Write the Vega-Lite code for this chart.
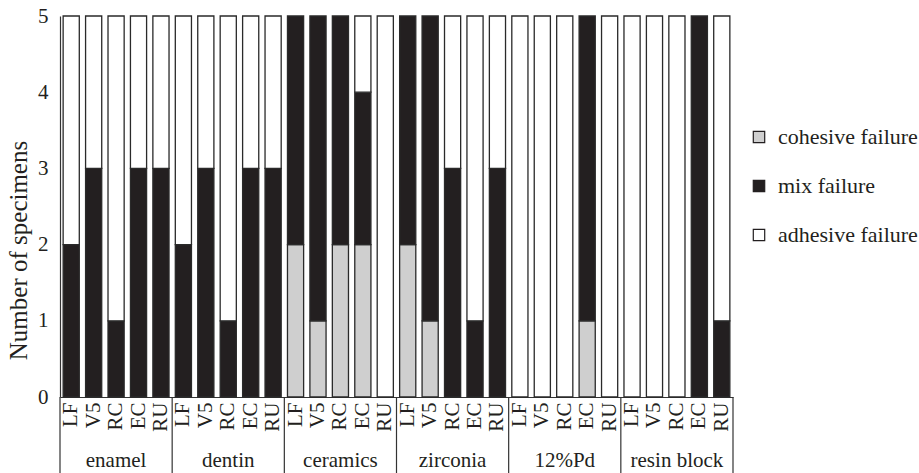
{
  "$schema": "https://vega.github.io/schema/vega-lite/v6.json",
  "width": 673,
  "height": 381,
  "autosize": {"type": "none"},
  "padding": {"left": 60, "top": 16, "right": 186, "bottom": 76},
  "background": "white",
  "config": {
    "font": "Liberation Serif",
    "view": {"stroke": null},
    "axis": {"labelColor": "#231f20", "titleColor": "#231f20", "domainColor": "#333333", "labelFont": "Liberation Serif", "titleFont": "Liberation Serif", "titleFontWeight": "normal"},
    "legend": {"labelColor": "#231f20", "labelFont": "Liberation Serif"}
  },
  "datasets": {
    "bars": [
      {"bar": "enamel|LF", "group": "enamel", "type": "mix failure", "rank": 2, "n": 2},
      {"bar": "enamel|LF", "group": "enamel", "type": "adhesive failure", "rank": 3, "n": 3},
      {"bar": "enamel|V5", "group": "enamel", "type": "mix failure", "rank": 2, "n": 3},
      {"bar": "enamel|V5", "group": "enamel", "type": "adhesive failure", "rank": 3, "n": 2},
      {"bar": "enamel|RC", "group": "enamel", "type": "mix failure", "rank": 2, "n": 1},
      {"bar": "enamel|RC", "group": "enamel", "type": "adhesive failure", "rank": 3, "n": 4},
      {"bar": "enamel|EC", "group": "enamel", "type": "mix failure", "rank": 2, "n": 3},
      {"bar": "enamel|EC", "group": "enamel", "type": "adhesive failure", "rank": 3, "n": 2},
      {"bar": "enamel|RU", "group": "enamel", "type": "mix failure", "rank": 2, "n": 3},
      {"bar": "enamel|RU", "group": "enamel", "type": "adhesive failure", "rank": 3, "n": 2},
      {"bar": "dentin|LF", "group": "dentin", "type": "mix failure", "rank": 2, "n": 2},
      {"bar": "dentin|LF", "group": "dentin", "type": "adhesive failure", "rank": 3, "n": 3},
      {"bar": "dentin|V5", "group": "dentin", "type": "mix failure", "rank": 2, "n": 3},
      {"bar": "dentin|V5", "group": "dentin", "type": "adhesive failure", "rank": 3, "n": 2},
      {"bar": "dentin|RC", "group": "dentin", "type": "mix failure", "rank": 2, "n": 1},
      {"bar": "dentin|RC", "group": "dentin", "type": "adhesive failure", "rank": 3, "n": 4},
      {"bar": "dentin|EC", "group": "dentin", "type": "mix failure", "rank": 2, "n": 3},
      {"bar": "dentin|EC", "group": "dentin", "type": "adhesive failure", "rank": 3, "n": 2},
      {"bar": "dentin|RU", "group": "dentin", "type": "mix failure", "rank": 2, "n": 3},
      {"bar": "dentin|RU", "group": "dentin", "type": "adhesive failure", "rank": 3, "n": 2},
      {"bar": "ceramics|LF", "group": "ceramics", "type": "cohesive failure", "rank": 1, "n": 2},
      {"bar": "ceramics|LF", "group": "ceramics", "type": "mix failure", "rank": 2, "n": 3},
      {"bar": "ceramics|V5", "group": "ceramics", "type": "cohesive failure", "rank": 1, "n": 1},
      {"bar": "ceramics|V5", "group": "ceramics", "type": "mix failure", "rank": 2, "n": 4},
      {"bar": "ceramics|RC", "group": "ceramics", "type": "cohesive failure", "rank": 1, "n": 2},
      {"bar": "ceramics|RC", "group": "ceramics", "type": "mix failure", "rank": 2, "n": 3},
      {"bar": "ceramics|EC", "group": "ceramics", "type": "cohesive failure", "rank": 1, "n": 2},
      {"bar": "ceramics|EC", "group": "ceramics", "type": "mix failure", "rank": 2, "n": 2},
      {"bar": "ceramics|EC", "group": "ceramics", "type": "adhesive failure", "rank": 3, "n": 1},
      {"bar": "ceramics|RU", "group": "ceramics", "type": "adhesive failure", "rank": 3, "n": 5},
      {"bar": "zirconia|LF", "group": "zirconia", "type": "cohesive failure", "rank": 1, "n": 2},
      {"bar": "zirconia|LF", "group": "zirconia", "type": "mix failure", "rank": 2, "n": 3},
      {"bar": "zirconia|V5", "group": "zirconia", "type": "cohesive failure", "rank": 1, "n": 1},
      {"bar": "zirconia|V5", "group": "zirconia", "type": "mix failure", "rank": 2, "n": 4},
      {"bar": "zirconia|RC", "group": "zirconia", "type": "mix failure", "rank": 2, "n": 3},
      {"bar": "zirconia|RC", "group": "zirconia", "type": "adhesive failure", "rank": 3, "n": 2},
      {"bar": "zirconia|EC", "group": "zirconia", "type": "mix failure", "rank": 2, "n": 1},
      {"bar": "zirconia|EC", "group": "zirconia", "type": "adhesive failure", "rank": 3, "n": 4},
      {"bar": "zirconia|RU", "group": "zirconia", "type": "mix failure", "rank": 2, "n": 3},
      {"bar": "zirconia|RU", "group": "zirconia", "type": "adhesive failure", "rank": 3, "n": 2},
      {"bar": "12%Pd|LF", "group": "12%Pd", "type": "adhesive failure", "rank": 3, "n": 5},
      {"bar": "12%Pd|V5", "group": "12%Pd", "type": "adhesive failure", "rank": 3, "n": 5},
      {"bar": "12%Pd|RC", "group": "12%Pd", "type": "adhesive failure", "rank": 3, "n": 5},
      {"bar": "12%Pd|EC", "group": "12%Pd", "type": "cohesive failure", "rank": 1, "n": 1},
      {"bar": "12%Pd|EC", "group": "12%Pd", "type": "mix failure", "rank": 2, "n": 4},
      {"bar": "12%Pd|RU", "group": "12%Pd", "type": "adhesive failure", "rank": 3, "n": 5},
      {"bar": "resin block|LF", "group": "resin block", "type": "adhesive failure", "rank": 3, "n": 5},
      {"bar": "resin block|V5", "group": "resin block", "type": "adhesive failure", "rank": 3, "n": 5},
      {"bar": "resin block|RC", "group": "resin block", "type": "adhesive failure", "rank": 3, "n": 5},
      {"bar": "resin block|EC", "group": "resin block", "type": "mix failure", "rank": 2, "n": 5},
      {"bar": "resin block|RU", "group": "resin block", "type": "mix failure", "rank": 2, "n": 1},
      {"bar": "resin block|RU", "group": "resin block", "type": "adhesive failure", "rank": 3, "n": 4}
    ],
    "groups": [
      {"group": "enamel"},
      {"group": "dentin"},
      {"group": "ceramics"},
      {"group": "zirconia"},
      {"group": "12%Pd"},
      {"group": "resin block"}
    ]
  },
  "layer": [
    {
      "data": {"name": "bars"},
      "mark": {"type": "bar", "stroke": "#2a2a2a", "strokeWidth": 1.3},
      "encoding": {
        "x": {
          "field": "bar", "type": "nominal", "sort": null,
          "scale": {"paddingInner": 0.28, "paddingOuter": 0.14},
          "axis": {"title": null, "labelExpr": "split(datum.label, '|')[1]", "labelAngle": 270, "ticks": false, "labelFontSize": 21, "labelPadding": 5, "domainWidth": 1.2}
        },
        "y": {
          "field": "n", "type": "quantitative", "stack": "zero",
          "scale": {"domain": [0, 5], "nice": false},
          "axis": {"title": "Number of specimens", "values": [0, 1, 2, 3, 4, 5], "format": "d", "grid": false, "ticks": false, "labelFontSize": 21, "labelPadding": 12, "titleFontSize": 25, "titlePadding": 6, "titleY": 234, "domainWidth": 1.2}
        },
        "order": {"field": "rank", "type": "quantitative"},
        "color": {
          "field": "type", "type": "nominal",
          "scale": {"domain": ["cohesive failure", "mix failure", "adhesive failure"], "range": ["#cfcfcf", "#231f20", "#ffffff"]},
          "legend": {"title": null, "orient": "none", "legendX": 688, "legendY": 110, "padding": 0, "symbolType": "square", "symbolSize": 130, "symbolStrokeColor": "#231f20", "symbolStrokeWidth": 1.2, "labelFontSize": 22, "labelOffset": 8, "rowPadding": 27}
        }
      }
    },
    {
      "data": {"name": "groups"},
      "layer": [
        {
          "mark": {"type": "rule", "stroke": "#333333", "strokeWidth": 1.2},
          "encoding": {
            "x": {"field": "group", "type": "nominal", "bandPosition": 0,
              "scale": {"domain": ["enamel", "dentin", "ceramics", "zirconia", "12%Pd", "resin block"], "paddingInner": 0, "paddingOuter": 0},
              "axis": {"orient": "bottom", "offset": 52, "title": null, "domain": false, "ticks": false, "labelAngle": 0, "labelFontSize": 21, "labelPadding": 0}},
            "y": {"datum": 0},
            "y2": {"datum": -1}
          }
        },
        {
          "transform": [{"filter": "datum.group === 'resin block'"}],
          "mark": {"type": "rule", "stroke": "#333333", "strokeWidth": 1.2},
          "encoding": {
            "x": {"field": "group", "type": "nominal", "bandPosition": 1,
              "scale": {"domain": ["enamel", "dentin", "ceramics", "zirconia", "12%Pd", "resin block"], "paddingInner": 0, "paddingOuter": 0},
              "axis": {"orient": "bottom", "offset": 52, "title": null, "domain": false, "ticks": false, "labelAngle": 0, "labelFontSize": 21, "labelPadding": 0}},
            "y": {"datum": 0},
            "y2": {"datum": -1}
          }
        }
      ]
    }
  ],
  "resolve": {"scale": {"x": "independent"}, "axis": {"x": "independent"}}
}
